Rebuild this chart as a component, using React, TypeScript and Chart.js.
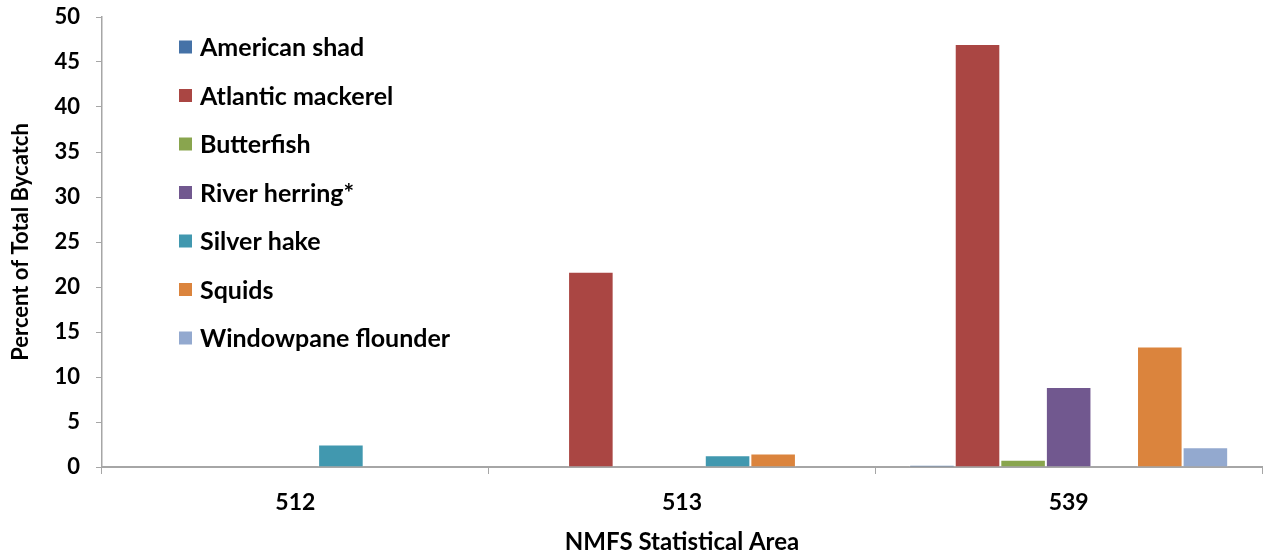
import { useEffect, useRef } from "react";
import { Chart, registerables } from "chart.js";

Chart.register(...registerables);

// NMFS statistical areas and percent of total bycatch per species
const areas = ["512", "513", "539"];
const americanShad = [null, null, 0.2];
const atlanticMackerel = [null, 21.7, 47.0];
const butterfish = [null, null, 0.8];
const riverHerring = [null, null, 8.9];
const silverHake = [2.5, 1.3, null];
const squids = [null, 1.5, 13.4];
const windowpaneFlounder = [null, null, 2.2];

const seriesNames = [
  "American shad",
  "Atlantic mackerel",
  "Butterfish",
  "River herring*",
  "Silver hake",
  "Squids",
  "Windowpane flounder",
];
const seriesValues = [
  americanShad,
  atlanticMackerel,
  butterfish,
  riverHerring,
  silverHake,
  squids,
  windowpaneFlounder,
];
const seriesColors = [
  "#4572A7",
  "#AA4643",
  "#89A54E",
  "#71588F",
  "#4198AF",
  "#DB843D",
  "#93A9CF",
];

const yMin = 0;
const yMax = 50;
const yStep = 5;

const FONT = "Lato, 'Open Sans', sans-serif";

// Vertical legend drawn inside the plot area, near its top-left corner
const insideLegend = {
  id: "insideLegend",
  afterDraw(chart: any) {
    const { ctx, chartArea } = chart;
    const x0 = chartArea.left + 77;
    const y0 = chartArea.top + 30;
    const rowGap = 48.5;
    const box = 13;
    ctx.save();
    ctx.font = `bold 25px ${FONT}`;
    ctx.textBaseline = "middle";
    ctx.textAlign = "left";
    chart.data.datasets.forEach((ds: any, i: number) => {
      const y = y0 + i * rowGap;
      ctx.fillStyle = ds.backgroundColor;
      ctx.fillRect(x0, y - box / 2, box, box);
      ctx.fillStyle = "#000";
      ctx.fillText(ds.label, x0 + box + 8, y + 1);
    });
    ctx.restore();
  },
};

export default function App() {
  const canvasRef = useRef<HTMLCanvasElement | null>(null);

  useEffect(() => {
    if (!canvasRef.current) return;
    const chart = new Chart(canvasRef.current, {
      type: "bar",
      data: {
        labels: areas,
        datasets: seriesNames.map((name, i) => ({
          label: name,
          data: seriesValues[i],
          backgroundColor: seriesColors[i],
          borderColor: "rgba(255,255,255,0.45)",
          borderWidth: 1,
          categoryPercentage: 0.825,
          barPercentage: 1,
        })),
      },
      options: {
        animation: false,
        responsive: true,
        maintainAspectRatio: false,
        layout: { padding: { top: 17, right: 5, left: 0, bottom: 0 } },
        plugins: {
          legend: { display: false },
          tooltip: { enabled: false },
        },
        scales: {
          x: {
            offset: true,
            grid: {
              display: true,
              drawOnChartArea: false,
              drawTicks: true,
              tickLength: 7,
              color: "#A6A6A6",
              lineWidth: 1,
            },
            border: { color: "#A6A6A6", width: 2 },
            ticks: {
              color: "#000",
              font: { family: FONT, size: 23, weight: "bold" },
              padding: 15,
            },
            title: {
              display: true,
              text: "NMFS Statistical Area",
              color: "#000",
              font: { family: FONT, size: 24, weight: "bold" },
              padding: { top: 0, bottom: 0 },
            },
            afterFit(scale: any) {
              scale.height = 90;
            },
          },
          y: {
            min: yMin,
            max: yMax,
            ticks: {
              stepSize: yStep,
              color: "#000",
              font: { family: FONT, size: 22, weight: "bold" },
              padding: 16,
            },
            grid: {
              display: true,
              drawOnChartArea: false,
              drawTicks: true,
              tickLength: 6,
              color: "#A6A6A6",
            },
            border: { color: "#A6A6A6", width: 1.5 },
            title: {
              display: true,
              text: "Percent of Total Bycatch",
              color: "#000",
              font: { family: FONT, size: 22, weight: "bold" },
              padding: { top: 8, bottom: 0 },
            },
            afterFit(scale: any) {
              scale.width = 102;
              scale.paddingTop = 0;
              scale.paddingBottom = 0;
            },
          },
        },
      },
      plugins: [insideLegend],
    });
    return () => chart.destroy();
  }, []);

  return (
    <div
      style={{
        position: "fixed",
        left: 0,
        top: 0,
        width: 1267,
        height: 557,
        background: "#fff",
      }}
    >
      <canvas ref={canvasRef} />
    </div>
  );
}
